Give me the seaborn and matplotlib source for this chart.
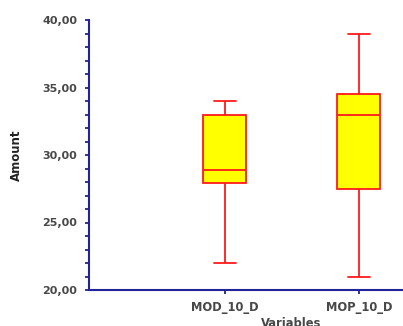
import matplotlib
matplotlib.use("Agg")
import matplotlib.pyplot as plt
import matplotlib.ticker as mticker
import seaborn as sns
import pandas as pd

# Five-number summaries (min, Q1, median, Q3, max) per variable
variables = ["MOD_10_D", "MOP_10_D"]
mod_10_d = [22.0, 27.9, 28.9, 33.0, 34.0]
mop_10_d = [21.0, 27.5, 33.0, 34.5, 39.0]

df = pd.DataFrame({
    "Variables": [variables[0]] * len(mod_10_d) + [variables[1]] * len(mop_10_d),
    "Amount": mod_10_d + mop_10_d,
})

sns.set_style("white")
plt.rcParams["font.family"] = ["DejaVu Sans"]

W, H = 403, 326
fig = plt.figure(figsize=(W / 100, H / 100), dpi=100)
ax = fig.add_axes([89 / W, 36 / H, (W - 89) / W, 270 / H])

navy = "#22229a"
red = "#ff1a1a"
text_col = "#484848"

sns.boxplot(
    data=df, x="Variables", y="Amount", ax=ax, whis=(0, 100),
    width=0.32, color="#ffff00", linecolor=red, linewidth=1.3,
    boxprops=dict(facecolor="#ffff00", edgecolor=red),
    medianprops=dict(color=red), whiskerprops=dict(color=red),
    capprops=dict(color=red), fliersize=0,
)

ax.set_xlim(-1.015, 1.33)
ax.set_ylim(20, 40)
ax.yaxis.set_major_locator(mticker.MultipleLocator(5))
ax.yaxis.set_minor_locator(mticker.MultipleLocator(1))
ax.yaxis.set_major_formatter(mticker.FuncFormatter(lambda v, p: f"{v:.2f}".replace(".", ",")))

for side in ["top", "right"]:
    ax.spines[side].set_visible(False)
for side in ["left", "bottom"]:
    ax.spines[side].set_color(navy)
    ax.spines[side].set_linewidth(1.5)

ax.tick_params(axis="y", which="major", direction="out", length=3, width=1.3,
               color=navy, labelsize=8, labelcolor=text_col, pad=5.5, left=True)
ax.tick_params(axis="y", which="minor", direction="out", length=3, width=1.3,
               color=navy, left=True)
ax.tick_params(axis="x", which="major", direction="out", length=3, width=1.3,
               color=navy, labelsize=8.3, labelcolor=text_col, pad=5, bottom=True)
for lab in ax.get_yticklabels() + ax.get_xticklabels():
    lab.set_fontweight("bold")

ax.set_ylabel("Amount", fontsize=8.5, fontweight="bold", color="#222222")
ax.yaxis.set_label_coords(-0.21, 0.5)
ax.set_xlabel("Variables", fontsize=8.3, fontweight="bold", color=text_col)
ax.xaxis.set_label_coords(0.645, -0.1)

fig.savefig("out.png", dpi=100)
